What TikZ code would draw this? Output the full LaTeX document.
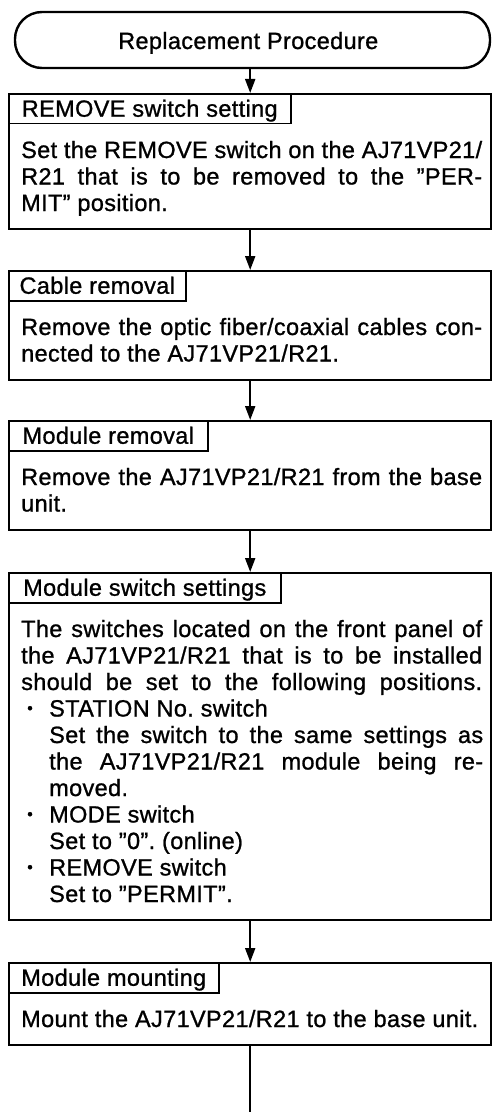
\documentclass[tikz,border=0pt]{standalone}
\usepackage{fontspec}
\setmainfont{Liberation Sans}[LetterSpace=1.5, FakeBold=1]
\usetikzlibrary{arrows.meta}
\newcommand\LnJ[2]{\hbox{\makebox[#1][s]{#2}}}
\newcommand\LnN[1]{\hbox{#1}}
\newcommand\LnB[1]{\hbox{\makebox[28pt][l]{\hspace{6pt}\raisebox{3pt}{\fontsize{16}{16}\selectfont •}}#1}}
\newcommand\LnIJ[1]{\hbox{\hspace{28pt}\makebox[434pt][s]{#1}}}
\newcommand\LnIN[1]{\hbox{\hspace{28pt}#1}}
\begin{document}
\frenchspacing
\spaceskip=9pt plus 4pt minus 3pt\relax
\begin{tikzpicture}[x=1pt,y=-1pt,
  every node/.style={font=\fontsize{23.5}{26.5}\selectfont},
  term/.style={draw, line width=2.4pt, rounded corners=27pt, minimum width=475pt, minimum height=56pt, inner sep=0pt},
  box/.style={draw, line width=2.4pt, anchor=north west, inner sep=0pt},
  lab/.style={draw, line width=1.5pt, anchor=north west, minimum height=30pt, inner xsep=4pt, inner ysep=0pt, text height=19pt, text depth=3pt, align=left},
  txt/.style={anchor=base west, inner sep=0pt},
  arr/.style={line width=2pt, -{Triangle[width=10pt,length=14pt]}},
  plain/.style={line width=2pt}
]
\useasboundingbox (0,0) rectangle (493,1113);
\fill[white] (0,0) rectangle (493,1113);

\node[term] (t) at (252.5,40) {};
\node[txt] (tt) at (118,49) {Replacement Procedure};

% box 1
\node[box, minimum width=482pt, minimum height=135pt] (b1) at (8,93) {};
\node[lab, minimum width=282pt] (l1) at (8,93) {REMOVE switch setting};
\node[txt] (x1) at (21,158) {\vtop{%
  \LnJ{461pt}{Set the REMOVE switch on the AJ71VP21/}
  \LnJ{461pt}{R21 that is to be removed to the ”PER-}
  \LnN{MIT” position.}}};

% box 2
\node[box, minimum width=482pt, minimum height=108.5pt] (b2) at (8,270) {};
\node[lab, minimum width=177pt] (l2) at (8,270) {Cable removal};
\node[txt] (x2) at (21,335) {\vtop{%
  \LnJ{461pt}{Remove the optic fiber/coaxial cables con-}
  \LnN{nected to the AJ71VP21/R21.}}};

% box 3
\node[box, minimum width=482pt, minimum height=108.5pt] (b3) at (8,420) {};
\node[lab, minimum width=199pt] (l3) at (8,420) {Module removal};
\node[txt] (x3) at (21,485) {\vtop{%
  \LnJ{461pt}{Remove the AJ71VP21/R21 from the base}
  \LnN{unit.}}};

% box 4
\node[box, minimum width=482pt, minimum height=347pt] (b4) at (8,572) {};
\node[lab, minimum width=272pt] (l4) at (8,572) {Module switch settings};
\node[txt] (x4) at (21,637) {\vtop{%
  \LnJ{461pt}{The switches located on the front panel of}
  \LnJ{461pt}{the AJ71VP21/R21 that is to be installed}
  \LnJ{461pt}{should be set to the following positions.}
  \LnB{STATION No. switch}
  \LnIJ{Set the switch to the same settings as}
  \LnIJ{the AJ71VP21/R21 module being re-}
  \LnIN{moved.}
  \LnB{MODE switch}
  \LnIN{Set to ”0”. (online)}
  \LnB{REMOVE switch}
  \LnIN{Set to ”PERMIT”.}}};

% box 5
\node[box, minimum width=482pt, minimum height=82pt] (b5) at (8,962) {};
\node[lab, minimum width=210pt] (l5) at (8,962) {Module mounting};
\node[txt] (x5) at (21,1027) {Mount the AJ71VP21/R21 to the base unit.};

\path (b5.south) ++(0,66) coordinate (end);
\draw[arr] (t.south -| b1.north) -- (b1.north);
\draw[arr] (b1.south) -- (b2.north);
\draw[arr] (b2.south) -- (b3.north);
\draw[arr] (b3.south) -- (b4.north);
\draw[arr] (b4.south) -- (b5.north);
\draw[plain] (b5.south) -- (end);
\end{tikzpicture}
\end{document}
